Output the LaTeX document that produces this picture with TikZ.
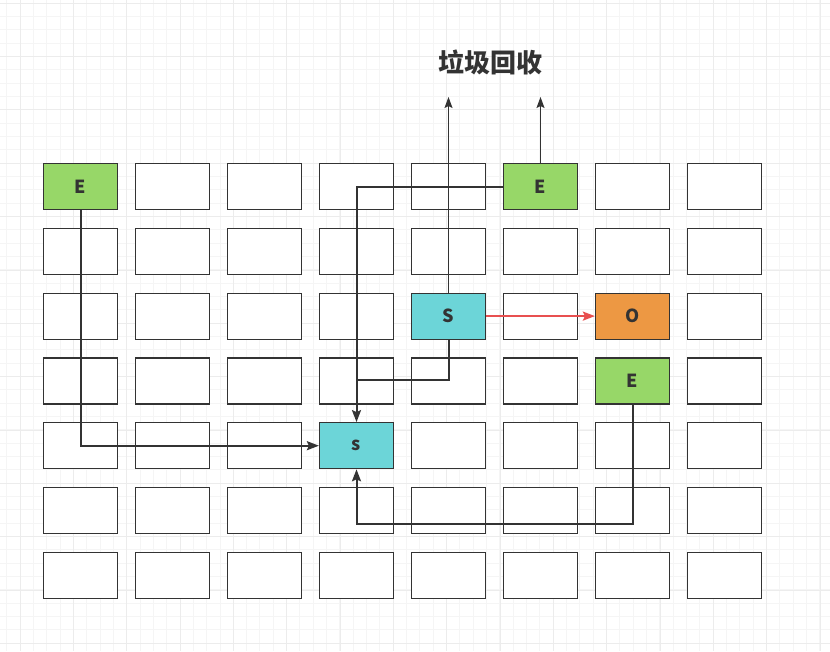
\documentclass[tikz,border=0pt]{standalone}
\usepackage{fontspec}
\setmainfont{Noto Sans CJK SC}
\usepackage{tikz}
\usetikzlibrary{arrows.meta}
\definecolor{edge}{RGB}{51, 51, 51}
\definecolor{cellE}{RGB}{151, 215, 104}
\definecolor{cellS}{RGB}{108, 213, 216}
\definecolor{cellO}{RGB}{237, 152, 67}
\definecolor{redline}{RGB}{232, 80, 80}
\definecolor{gridminor}{RGB}{245, 245, 245}
\definecolor{gridmajor}{RGB}{236, 236, 236}
\newcommand*{\cw}{74pt}
\newcommand*{\ch}{46pt}

\begin{document}
\begin{tikzpicture}[
   x=1pt, y=-1pt,
   cell/.style={rectangle, draw=edge, fill=white, line width=1.2, text=edge,
                inner sep=0, minimum width=\cw, minimum height=\ch,
                font=\bfseries\fontsize{18}{18}\selectfont},
   ecell/.style={cell, fill=cellE},
   scell/.style={cell, fill=cellS},
   ocell/.style={cell, fill=cellO},
   link/.style={draw=edge, line width=2, -{Stealth[length=12pt, width=9pt, inset=2pt]}},
   thinlink/.style={draw=edge, line width=1.2, -{Stealth[length=11pt, width=8pt, inset=2pt]}},
   plainlink/.style={draw=edge, line width=2},
   redlink/.style={draw=redline, line width=2, -{Stealth[length=12pt, width=9pt, inset=2pt]}}
  ]

  \useasboundingbox (0, 0) rectangle (830, 651);

  % Background grid
  \foreach \i in {0,...,62} {
    \draw[gridminor, line width=1] ({6.67 + 13.333 * \i}, 0) -- ++(0, 651);
  }
  \foreach \i in {0,...,48} {
    \draw[gridminor, line width=1] (0, {3.33 + 13.333 * \i}) -- ++(830, 0);
  }
  \foreach \i in {0,...,15} {
    \draw[gridmajor, line width=1] ({20 + 53.333 * \i}, 0) -- ++(0, 651);
  }
  \foreach \i in {0,...,12} {
    \draw[gridmajor, line width=1] (0, {3.33 + 53.333 * \i}) -- ++(830, 0);
  }

  % Cell spacing
  \pgfmathsetmacro{\dx}{92}
  \pgfmathsetmacro{\dy}{64.8}

  \foreach \r in {0,...,6} {
    \foreach \c in {0,...,7} {
      \node (c\r\c) at (80.5 + \c * \dx, 186.5 + \r * \dy) [cell] {};
    }
  }

  \node (E1) at (c00) [ecell] {E};
  \node (E2) at (c05) [ecell] {E};
  \node (S) at (c24) [scell] {S};
  \node (O) at (c26) [ocell] {O};
  \node (E3) at (c36) [ecell] {E};
  \node (s) at (c43) [scell] {s};

  \node (title) at (490, 62) [text=edge] {\bfseries\fontsize{26}{26}\selectfont 垃圾回收};

  \coordinate (upS) at (448.5, 97);
  \coordinate (upE) at (540.5, 97);
  \coordinate (join) at (356.5, 380);

  \draw[thinlink] (S.north) -- (upS);
  \draw[thinlink] (E2.north) -- (upE);

  \draw[link] (E1.south) |- (s.west);
  \draw[link] (E2.west) -| (s.north);
  \draw[plainlink] (S.south) |- (join);
  \draw[link] (E3.south) -- ++(0, 119) -| (s.south);
  \draw[redlink] (S.east) -- (O.west);

\end{tikzpicture}
\end{document}
